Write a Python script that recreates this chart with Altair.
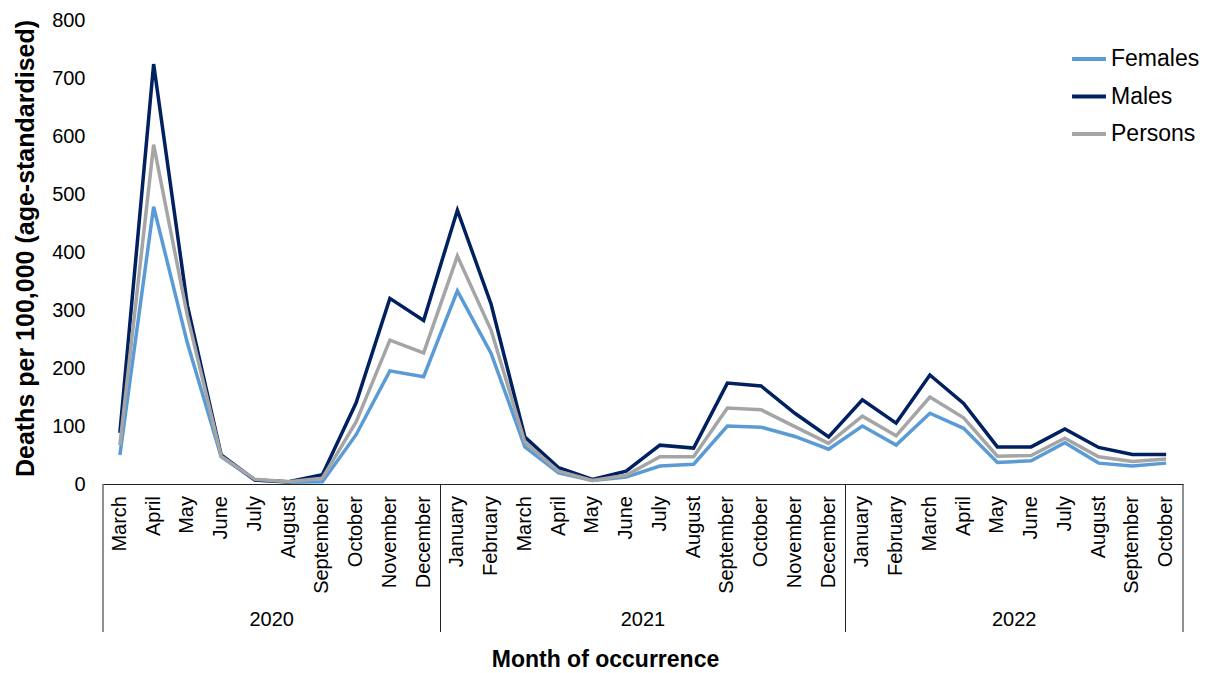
import altair as alt
import pandas as pd

# ---- data ----
years = [2020] * 10 + [2021] * 12 + [2022] * 10
months = (
    ["March", "April", "May", "June", "July", "August", "September", "October", "November", "December"]
    + ["January", "February", "March", "April", "May", "June", "July", "August", "September", "October", "November", "December"]
    + ["January", "February", "March", "April", "May", "June", "July", "August", "September", "October"]
)
females = [50, 478, 243, 47, 7, 3, 4, 85, 195, 185,
           333, 225, 64, 19, 6, 12, 31, 34, 100, 98, 82, 60,
           100, 67, 122, 96, 37, 40, 71, 36, 31, 36]
males = [88, 724, 308, 50, 7, 4, 16, 140, 320, 282,
         472, 310, 81, 28, 8, 22, 67, 62, 174, 169, 122, 81,
         145, 105, 188, 139, 64, 64, 95, 63, 51, 51]
persons = [67, 585, 290, 48, 8, 4, 10, 107, 248, 226,
           393, 265, 72, 22, 6, 15, 47, 47, 131, 128, 99, 70,
           117, 83, 150, 114, 48, 49, 79, 47, 39, 43]
series_names = ["Females", "Males", "Persons"]
series_colors = ["#5B9BD5", "#002060", "#A5A5A5"]

# ---- tables ----
rows = []
for name, vals in zip(series_names, [females, males, persons]):
    for i, v in enumerate(vals):
        rows.append({"idx": i, "month": months[i], "year": years[i], "series": name, "value": v})
df = pd.DataFrame(rows)

month_df = pd.DataFrame({"idx": range(len(months)), "month": months, "year": years})
grp = month_df.groupby("year")["idx"].agg(["min", "max"]).reset_index()
grp["mid"] = (grp["min"] + grp["max"]) / 2
bounds = sorted(set((grp["min"] - 0.5).tolist() + (grp["max"] + 0.5).tolist()))
bounds_df = pd.DataFrame({"idx": bounds})
year_df = pd.DataFrame({"idx": grp["mid"], "label": grp["year"].astype(str)})

W, H = 1080, 464
FONT = "Liberation Sans"

xscale = alt.Scale(domain=[-0.5, len(months) - 0.5], nice=False, zero=False)

lines = alt.Chart(df).mark_line(strokeWidth=3.5).encode(
    x=alt.X(
        "idx:Q",
        scale=xscale,
        axis=alt.Axis(
            labels=False,
            ticks=False,
            grid=False,
            domain=True,
            domainColor="#222222",
            domainWidth=1,
            title="Month of occurrence",
            titleFontSize=23,
            titleFontWeight="bold",
            titleColor="#000000",
            titleX=502,
            titleY=175,
            titleAlign="center",
            titleBaseline="middle",
        ),
    ),
    y=alt.Y(
        "value:Q",
        scale=alt.Scale(domain=[0, 800], nice=False),
        axis=alt.Axis(
            values=list(range(0, 801, 100)),
            labelFontSize=20,
            labelColor="#000000",
            labelPadding=18,
            ticks=False,
            domain=False,
            grid=False,
            title="Deaths per 100,000 (age-standardised)",
            titleFontSize=25,
            titleFontWeight="bold",
            titleColor="#000000",
            titleX=-78,
            titleY=228,
            titleAngle=-90,
            titleAlign="center",
            titleBaseline="middle",
        ),
    ),
    color=alt.Color(
        "series:N",
        scale=alt.Scale(domain=series_names, range=series_colors),
        legend=alt.Legend(
            title=None,
            orient="none",
            legendX=967,
            legendY=20,
            symbolType="stroke",
            symbolSize=1150,
            symbolStrokeWidth=4,
            labelFontSize=23,
            labelColor="#000000",
            labelOffset=3,
            rowPadding=6.5,
        ),
    ),
    detail="series:N",
)

month_text = alt.Chart(month_df).mark_text(
    fontSize=20, color="#000000", angle=270, align="right", baseline="middle", font=FONT
).encode(
    x=alt.X("idx:Q", scale=xscale),
    y=alt.value(H + 12),
    text="month:N",
)

rules = alt.Chart(bounds_df).mark_rule(color="#222222", strokeWidth=1).encode(
    x=alt.X("idx:Q", scale=xscale),
    y=alt.value(H),
    y2=alt.value(H + 148),
)

year_text = alt.Chart(year_df).mark_text(
    fontSize=20, color="#000000", baseline="middle", align="center", font=FONT
).encode(
    x=alt.X("idx:Q", scale=xscale),
    y=alt.value(H + 136),
    text="label:N",
)

chart = (
    alt.layer(lines, rules, month_text, year_text)
    .properties(
        width=W,
        height=H,
        autosize=alt.AutoSizeParams(type="none"),
        padding={"left": 95, "top": 12, "right": 19, "bottom": 186},
    )
    .configure(font=FONT)
    .configure_view(stroke=None)
)

chart.save("out.html", embed_options={"renderer": "svg", "actions": False})
